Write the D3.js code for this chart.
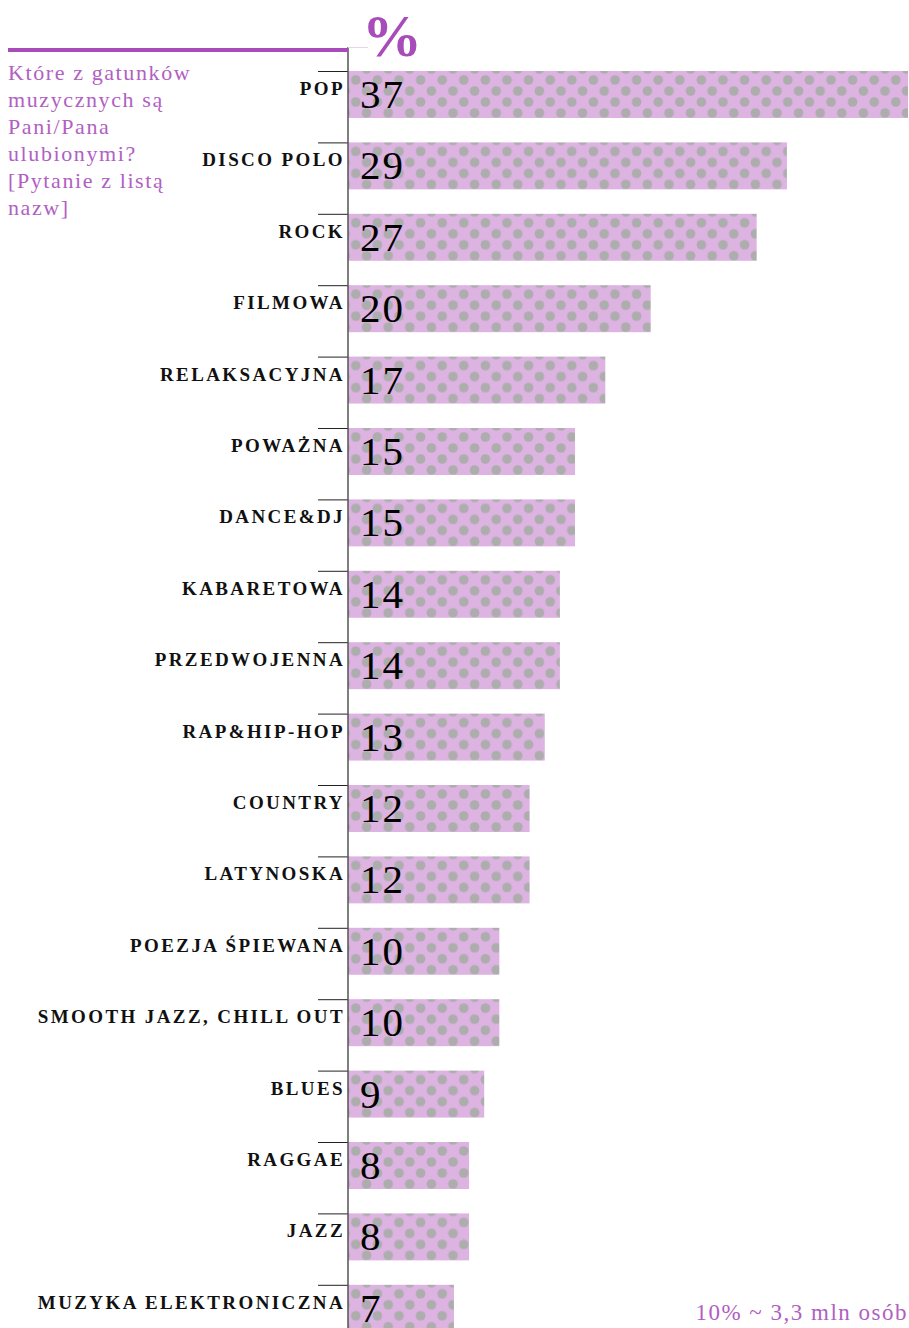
<!DOCTYPE html>
<html>
<head>
<meta charset="utf-8">
<script src="https://cdn.jsdelivr.net/npm/d3@7"></script>
<style>
  body { margin: 0; background: #fff; }
  svg { display: block; }
  text { font-family: "Liberation Serif", "Times New Roman", serif; }
</style>
</head>
<body>
<div id="chart"></div>
<script>
const categories = ["POP", "DISCO POLO", "ROCK", "FILMOWA", "RELAKSACYJNA", "POWAŻNA", "DANCE&DJ",
    "KABARETOWA", "PRZEDWOJENNA", "RAP&HIP-HOP", "COUNTRY", "LATYNOSKA", "POEZJA ŚPIEWANA",
    "SMOOTH JAZZ, CHILL OUT", "BLUES", "RAGGAE", "JAZZ", "MUZYKA ELEKTRONICZNA"];
const values = [37, 29, 27, 20, 17, 15, 15, 14, 14, 13, 12, 12, 10, 10, 9, 8, 8, 7];
const questionLines = ["Które z gatunków", "muzycznych są", "Pani/Pana", "ulubionymi?", "[Pytanie z listą", "nazw]"];
const unitLabel = "%";
const footnote = "10% ~ 3,3 mln osób";

function drawChart() {
    const W = 909, H = 1328;
    const axisX = 348,
        top = 71,
        step = 71.4;

    const svg = d3.select("#chart")
        .append("svg")
            .attr("width", W)
            .attr("height", H);

    const defs = svg.append("defs");
    const pat = defs.append("pattern")
        .attr("id", "dots")
        .attr("patternUnits", "userSpaceOnUse")
        .attr("x", -6)
        .attr("y", -2)
        .attr("width", 21.6)
        .attr("height", 22);
    pat.append("rect")
        .attr("width", 21.6)
        .attr("height", 22)
        .attr("fill", "#dcb3e1");
    [[5.4, 0], [16.2, 11], [5.4, 22], [-5.4, 11], [27, 11]].forEach(c => {
        pat.append("circle")
            .attr("cx", c[0])
            .attr("cy", c[1])
            .attr("r", 4.8)
            .attr("fill", "#adadad");
    });

    const x = d3.scaleLinear()
        .domain([0, 37])
        .range([axisX, W - 1]);

    const y = d3.scaleBand()
        .domain(categories)
        .range([top, top + step * (categories.length - 0.342)])
        .paddingInner(0.342)
        .paddingOuter(0)
        .align(0);

    const rows = svg.selectAll(".row")
        .data(categories)
        .join("g")
            .attr("class", "row")
            .attr("transform", d => "translate(0," + y(d) + ")");

    rows.append("rect")
        .attr("x", x(0))
        .attr("y", 0)
        .attr("width", (d, i) => x(values[i]) - x(0))
        .attr("height", y.bandwidth())
        .attr("fill", "url(#dots)");

    rows.append("line")
        .attr("x1", axisX - 30)
        .attr("x2", axisX)
        .attr("y1", 0.5)
        .attr("y2", 0.5)
        .style("stroke", "#222")
        .style("stroke-width", 1);

    rows.append("text")
        .attr("x", axisX - 3)
        .attr("y", 24)
        .style("text-anchor", "end")
        .style("font-size", "19px")
        .style("font-weight", 700)
        .style("letter-spacing", "2.4px")
        .style("fill", "#111")
        .text(d => d);

    rows.append("text")
        .attr("x", x(0) + 12)
        .attr("y", 37)
        .style("font-size", "41px")
        .style("letter-spacing", "2px")
        .style("fill", "#000")
        .text((d, i) => values[i]);

    // axis line
    svg.append("line")
        .attr("x1", axisX)
        .attr("x2", axisX)
        .attr("y1", 47)
        .attr("y2", H)
        .style("stroke", "#555")
        .style("stroke-width", 1.5);

    svg.append("line")
        .attr("x1", 8)
        .attr("x2", axisX)
        .attr("y1", 50)
        .attr("y2", 50)
        .style("stroke", "#a84cba")
        .style("stroke-width", 4);

    svg.append("line")
        .attr("x1", axisX)
        .attr("x2", axisX + 20)
        .attr("y1", 47.5)
        .attr("y2", 47.5)
        .style("stroke", "#ead3ee")
        .style("stroke-width", 1);

    svg.append("text")
        .attr("x", 362)
        .attr("y", 56)
        .style("font-size", "60px")
        .style("font-weight", 700)
        .style("fill", "#a84cba")
        .text(unitLabel);

    svg.append("text")
        .selectAll("tspan")
        .data(questionLines)
        .join("tspan")
            .attr("x", 8)
            .attr("y", (d, i) => 80 + i * 27)
            .style("font-size", "22px")
            .style("letter-spacing", "1.6px")
            .style("fill", "#b160c2")
            .text(d => d);

    svg.append("text")
        .attr("x", W - 1)
        .attr("y", 1320)
        .style("text-anchor", "end")
        .style("font-size", "23px")
        .style("letter-spacing", "1.5px")
        .style("fill", "#b160c2")
        .text(footnote);
}

drawChart();
</script>
</body>
</html>
